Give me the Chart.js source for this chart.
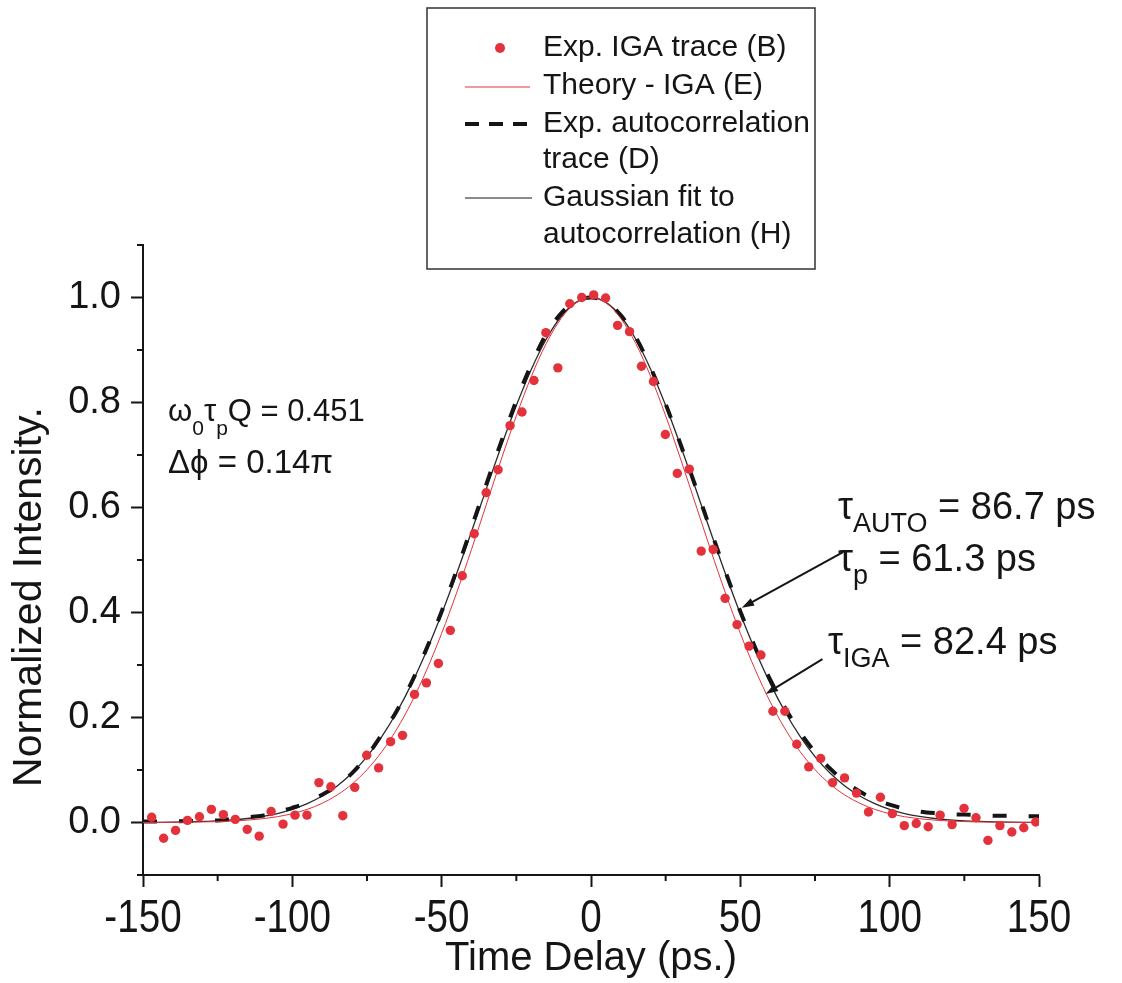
<!DOCTYPE html>
<html>
<head>
<meta charset="utf-8">
<script src="https://cdn.jsdelivr.net/npm/chart.js@4.4.1/dist/chart.umd.min.js"></script>
<style>
  body { margin: 0; background: #fff; }
  #wrap { width: 1122px; height: 983px; }
</style>
</head>
<body>
<div id="wrap"><canvas id="pulseChart" width="1122" height="983"></canvas></div>
<script>
// measured IGA trace (ps, normalized)
var igaTime = [
  -147.1, -143.1, -139.1, -135.1, -131.1, -127.1, -123.1, -119.1, -115.1, -111.1,
  -107.1, -103.1, -99.1, -95.1, -91.1, -87.1, -83.1, -79.1, -75.1, -71.1,
  -67.1, -63.1, -59.1, -55.1, -51.1, -47.1, -43.1, -39.1, -35.1, -31.1,
  -27.1, -23.1, -19.1, -15.1, -11.1, -7.1, -3.1, 0.9, 4.9, 8.9,
  12.9, 16.9, 20.9, 24.9, 28.9, 32.9, 36.9, 40.9, 44.9, 48.9,
  52.9, 56.9, 60.9, 64.9, 68.9, 72.9, 76.9, 80.9, 84.9, 88.9,
  92.9, 96.9, 100.9, 104.9, 108.9, 112.9, 116.9, 120.9, 124.9, 128.9,
  132.9, 136.9, 140.9, 144.9, 148.9
];
var igaValue = [
  0.010, -0.030, -0.015, 0.004, 0.011, 0.025, 0.015, 0.006, -0.013, -0.026,
  0.021, -0.003, 0.014, 0.014, 0.076, 0.068, 0.013, 0.067, 0.128, 0.104,
  0.154, 0.166, 0.244, 0.266, 0.303, 0.366, 0.470, 0.550, 0.628, 0.672,
  0.756, 0.782, 0.842, 0.933, 0.866, 0.988, 1.000, 1.005, 0.999, 0.947,
  0.935, 0.869, 0.840, 0.739, 0.665, 0.673, 0.517, 0.520, 0.427, 0.377,
  0.336, 0.319, 0.212, 0.212, 0.149, 0.106, 0.122, 0.076, 0.085, 0.056,
  0.020, 0.048, 0.017, -0.006, -0.002, -0.008, 0.014, -0.004, 0.027, 0.009,
  -0.034, -0.006, -0.018, -0.010, 0.001
];

// curves, every 5 ps
var curveTime = [
  -150, -145, -140, -135, -130, -125, -120, -115, -110, -105,
  -100, -95, -90, -85, -80, -75, -70, -65, -60, -55,
  -50, -45, -40, -35, -30, -25, -20, -15, -10, -5,
  0, 5, 10, 15, 20, 25, 30, 35, 40, 45,
  50, 55, 60, 65, 70, 75, 80, 85, 90, 95,
  100, 105, 110, 115, 120, 125, 130, 135, 140, 145, 150
];
var theoryIGA = [
  0.0001, 0.0002, 0.0003, 0.0006, 0.0010, 0.0017, 0.0028, 0.0045, 0.0072, 0.0111,
  0.0168, 0.0251, 0.0366, 0.0523, 0.0733, 0.1006, 0.1352, 0.1781, 0.2299, 0.2908,
  0.3603, 0.4374, 0.5203, 0.6064, 0.6924, 0.7747, 0.8493, 0.9122, 0.9600, 0.9898,
  1.0000, 0.9898, 0.9600, 0.9122, 0.8493, 0.7747, 0.6924, 0.6064, 0.5203, 0.4374,
  0.3603, 0.2908, 0.2299, 0.1781, 0.1352, 0.1006, 0.0733, 0.0523, 0.0366, 0.0251,
  0.0168, 0.0111, 0.0072, 0.0045, 0.0028, 0.0017, 0.0010, 0.0006, 0.0003, 0.0002, 0.0001
];
var autoTrace = [
  0.002, 0.002, 0.002, 0.003, 0.003, 0.004, 0.007, 0.010, 0.013, 0.020,
  0.028, 0.038, 0.053, 0.070, 0.094, 0.127, 0.168, 0.213, 0.268, 0.332,
  0.402, 0.480, 0.562, 0.645, 0.726, 0.803, 0.872, 0.930, 0.970, 0.993,
  1.000, 0.992, 0.966, 0.924, 0.866, 0.797, 0.720, 0.640, 0.558, 0.478,
  0.402, 0.333, 0.272, 0.218, 0.172, 0.134, 0.103, 0.078, 0.059, 0.044,
  0.034, 0.026, 0.021, 0.018, 0.016, 0.015, 0.014, 0.013, 0.013, 0.012, 0.012
];
var gaussFit = [
  0.0002, 0.0004, 0.0007, 0.0012, 0.0020, 0.0031, 0.0049, 0.0076, 0.0115, 0.0171,
  0.0250, 0.0358, 0.0504, 0.0696, 0.0944, 0.1256, 0.1641, 0.2105, 0.2650, 0.3277,
  0.3976, 0.4738, 0.5543, 0.6365, 0.7175, 0.7941, 0.8628, 0.9204, 0.9638, 0.9908,
  1.0000, 0.9908, 0.9638, 0.9204, 0.8628, 0.7941, 0.7175, 0.6365, 0.5543, 0.4738,
  0.3976, 0.3277, 0.2650, 0.2105, 0.1641, 0.1256, 0.0944, 0.0696, 0.0504, 0.0358,
  0.0250, 0.0171, 0.0115, 0.0076, 0.0049, 0.0031, 0.0020, 0.0012, 0.0007, 0.0004, 0.0002
];

// labelled x ticks
var xTickLabels = [-150, -100, -50, 0, 50, 100, 150];

// arrows pointing at the curves, [fromX, fromY, toX, toY] in data units
var arrows = [
  [84.4, 0.515, 50.5, 0.409],
  [77.5, 0.311, 58.5, 0.245]
];

var RED = '#e3323b';
var INK = '#151515';
var FONT = "'Liberation Sans', Arial, sans-serif";

function toPoints(xs, ys) {
  return xs.map(function(x, i) { return { x: x, y: ys[i] }; });
}

// draws a line of text with subscripts: parts = [[text, isSub], ...]
function drawRich(ctx, x, y, parts, size, subSize, subDrop) {
  ctx.textAlign = 'left';
  ctx.textBaseline = 'alphabetic';
  parts.forEach(function(p) {
    ctx.font = (p[1] ? subSize : size) + 'px ' + FONT;
    ctx.fillText(p[0], x, p[1] ? y + subDrop : y);
    x += ctx.measureText(p[0]).width;
  });
}

var minorTicks = {
  id: 'minorTicks',
  afterDraw: function(chart) {
    var ctx = chart.ctx, xs = chart.scales.x, ys = chart.scales.y;
    ctx.save();
    ctx.strokeStyle = INK;
    ctx.lineWidth = 2;
    ctx.beginPath();
    for (var t = -125; t <= 125; t += 50) {
      var px = xs.getPixelForValue(t);
      ctx.moveTo(px, ys.bottom);
      ctx.lineTo(px, ys.bottom + 6);
    }
    for (var v = -1; v <= 11; v += 2) {
      var py = ys.getPixelForValue(v / 10);
      ctx.moveTo(xs.left, py);
      ctx.lineTo(xs.left - 6, py);
    }
    ctx.stroke();

    // x tick labels in a narrow face
    ctx.fillStyle = INK;
    ctx.font = '46px ' + FONT;
    ctx.textAlign = 'center';
    ctx.textBaseline = 'alphabetic';
    xTickLabels.forEach(function(t) {
      ctx.save();
      ctx.translate(xs.getPixelForValue(t), ys.bottom + 57);
      ctx.scale(0.84, 1);
      ctx.fillText(String(t), 0, 0);
      ctx.restore();
    });
    ctx.restore();
  }
};

var annotations = {
  id: 'annotations',
  afterDraw: function(chart) {
    var ctx = chart.ctx, xs = chart.scales.x, ys = chart.scales.y;
    ctx.save();
    ctx.fillStyle = INK;

    // y axis title sits a little below the axis middle
    ctx.save();
    ctx.translate(30, 597);
    ctx.rotate(-Math.PI / 2);
    ctx.font = '41px ' + FONT;
    ctx.textAlign = 'center';
    ctx.textBaseline = 'middle';
    ctx.fillText('Normalized Intensity.', 0, 0);
    ctx.restore();

    drawRich(ctx, 168, 421, [['ω', 0], ['0', 1], ['τ', 0], ['p', 1], ['Q = 0.451', 0]], 31, 21, 14);
    drawRich(ctx, 168, 473, [['Δϕ = 0.14π', 0]], 33, 22, 14);

    drawRich(ctx, 838, 519, [['τ', 0], ['AUTO', 1], [' = 86.7 ps', 0]], 38, 27, 13);
    drawRich(ctx, 838, 571, [['τ', 0], ['p', 1], [' = 61.3 ps', 0]], 38, 27, 13);
    drawRich(ctx, 828, 654, [['τ', 0], ['IGA', 1], [' = 82.4 ps', 0]], 38, 27, 13);

    // arrows
    ctx.strokeStyle = INK;
    ctx.lineWidth = 2;
    arrows.forEach(function(a) {
      var x0 = xs.getPixelForValue(a[0]), y0 = ys.getPixelForValue(a[1]);
      var x1 = xs.getPixelForValue(a[2]), y1 = ys.getPixelForValue(a[3]);
      var ang = Math.atan2(y1 - y0, x1 - x0);
      ctx.beginPath();
      ctx.moveTo(x0, y0);
      ctx.lineTo(x1 - 8 * Math.cos(ang), y1 - 8 * Math.sin(ang));
      ctx.stroke();
      ctx.beginPath();
      ctx.moveTo(x1, y1);
      ctx.lineTo(x1 - 13 * Math.cos(ang - 0.32), y1 - 13 * Math.sin(ang - 0.32));
      ctx.lineTo(x1 - 13 * Math.cos(ang + 0.32), y1 - 13 * Math.sin(ang + 0.32));
      ctx.closePath();
      ctx.fill();
    });

    // legend box
    ctx.fillStyle = '#fff';
    ctx.fillRect(427, 8, 388, 261);
    ctx.strokeStyle = '#333';
    ctx.lineWidth = 1.5;
    ctx.strokeRect(427, 8, 388, 261);

    ctx.fillStyle = RED;
    ctx.beginPath();
    ctx.arc(500, 48, 5, 0, Math.PI * 2);
    ctx.fill();

    ctx.strokeStyle = RED;
    ctx.lineWidth = 1.2;
    ctx.beginPath();
    ctx.moveTo(465, 87); ctx.lineTo(530, 87);
    ctx.stroke();

    ctx.strokeStyle = INK;
    ctx.lineWidth = 4;
    ctx.setLineDash([14, 10]);
    ctx.beginPath();
    ctx.moveTo(465, 124); ctx.lineTo(537, 124);
    ctx.stroke();
    ctx.setLineDash([]);

    ctx.lineWidth = 1;
    ctx.beginPath();
    ctx.moveTo(465, 198); ctx.lineTo(532, 198);
    ctx.stroke();

    ctx.fillStyle = INK;
    ctx.font = '30px ' + FONT;
    ctx.textAlign = 'left';
    ctx.textBaseline = 'middle';
    var rows = [['Exp. IGA trace (B)', 48], ['Theory - IGA (E)', 86], ['Exp. autocorrelation', 124],
                ['trace (D)', 160], ['Gaussian fit to', 198], ['autocorrelation (H)', 235]];
    rows.forEach(function(r) { ctx.fillText(r[0], 543, r[1]); });

    ctx.restore();
  }
};

var ctx = document.getElementById('pulseChart').getContext('2d');
var pulseChart = new Chart(ctx, {
  type: 'scatter',
  data: {
    datasets: [
      {
        label: 'Exp. IGA trace (B)',
        data: toPoints(igaTime, igaValue),
        pointRadius: 4.7,
        pointBackgroundColor: RED,
        pointBorderWidth: 0,
        showLine: false
      },
      {
        label: 'Theory - IGA (E)',
        data: toPoints(curveTime, theoryIGA),
        showLine: true,
        borderColor: RED,
        borderWidth: 1,
        pointRadius: 0,
        cubicInterpolationMode: 'monotone'
      },
      {
        label: 'Exp. autocorrelation trace (D)',
        data: toPoints(curveTime, autoTrace),
        showLine: true,
        borderColor: INK,
        borderWidth: 4,
        borderDash: [14, 22],
        pointRadius: 0,
        cubicInterpolationMode: 'monotone'
      },
      {
        label: 'Gaussian fit to autocorrelation (H)',
        data: toPoints(curveTime, gaussFit),
        showLine: true,
        borderColor: '#2a2a2a',
        borderWidth: 1.3,
        pointRadius: 0,
        cubicInterpolationMode: 'monotone'
      }
    ]
  },
  options: {
    responsive: false,
    animation: false,
    events: [],
    layout: { padding: { top: 245, right: 83, left: 0, bottom: 0 } },
    plugins: {
      legend: { display: false },
      tooltip: { enabled: false }
    },
    scales: {
      x: {
        type: 'linear',
        min: -150,
        max: 150,
        afterFit: function(scale) {
          scale.height = 108;
          scale.paddingLeft = 0;
          scale.paddingRight = 0;
        },
        border: { display: true, color: INK, width: 2 },
        grid: {
          drawOnChartArea: false,
          tickLength: 12,
          tickWidth: 2,
          tickColor: function(c) {
            return c.tick && c.tick.value % 50 === 0 ? INK : 'rgba(0,0,0,0)';
          }
        },
        ticks: {
          stepSize: 25,
          padding: 2,
          maxRotation: 0,
          autoSkip: false,
          color: INK,
          font: { family: FONT, size: 40 },
          // labels are drawn narrow by the minorTicks plugin
          callback: function() { return ''; }
        },
        title: {
          display: true,
          text: 'Time Delay (ps.)',
          color: INK,
          font: { family: FONT, size: 40 },
          padding: { top: 0, bottom: 0 }
        }
      },
      y: {
        type: 'linear',
        min: -0.1,
        max: 1.1,
        afterFit: function(scale) { scale.width = 143; },
        border: { display: true, color: INK, width: 2 },
        grid: {
          drawOnChartArea: false,
          tickLength: 12,
          tickWidth: 2,
          tickColor: function(c) {
            return c.tick && Math.round(c.tick.value * 10) % 2 === 0 ? INK : 'rgba(0,0,0,0)';
          }
        },
        ticks: {
          stepSize: 0.1,
          padding: 10,
          autoSkip: false,
          color: INK,
          font: { family: FONT, size: 38 },
          callback: function(v) {
            return Math.round(v * 10) % 2 === 0 ? v.toFixed(1) : '';
          }
        }
      }
    }
  },
  plugins: [minorTicks, annotations]
});
</script>
</body>
</html>
